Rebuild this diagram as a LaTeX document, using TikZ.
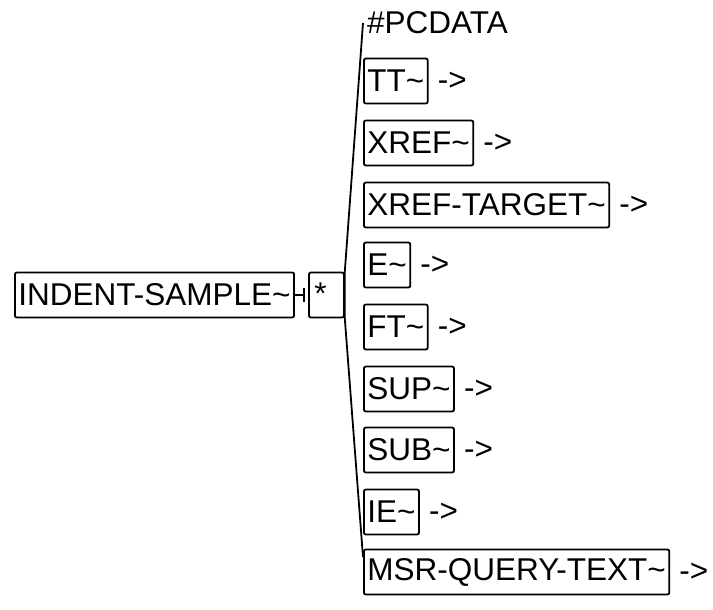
\documentclass[tikz,border=0pt]{standalone}
\usepackage{fontspec}
\setmainfont{Liberation Sans}
\usetikzlibrary{arrows.meta,positioning}

\begin{document}
\begin{tikzpicture}[
  x=1pt, y=-1pt,
  font=\fontsize{31.5}{32}\selectfont,
  elem/.style={
    draw,
    line width=1.8pt,
    rounded corners=2pt,
    minimum height=45pt,
    inner xsep=3.5pt,
    inner ysep=0pt,
    anchor=west
  },
  next/.style={inner sep=0pt},
  hook/.style={line width=1.8pt},
  link/.style={line width=1.8pt, -{Bar[width=14pt,line width=1.8pt,sep=3pt]}}
]
\useasboundingbox (0,0) rectangle (713,610);

\node[elem] (indent) at (14,295) {INDENT-SAMPLE\textasciitilde};
\node[elem, minimum width=35pt] (star) at (308,295) {\makebox[24pt][l]{\raisebox{3pt}{*}}};
\draw[link] (indent) -- (star);

\node[anchor=west, inner xsep=4pt, inner ysep=0pt] (pcdata) at (363,23) {\#PCDATA};

\node[elem] (tt) at (363,81) {TT\textasciitilde};
\node[next, right=9pt of tt] (ttnext) {->};

\node[elem] (xref) at (363,143) {XREF\textasciitilde};
\node[next, right=9pt of xref] (xrefnext) {->};

\node[elem] (xreftarget) at (363,205) {XREF-TARGET\textasciitilde};
\node[next, right=9pt of xreftarget] (xreftargetnext) {->};

\node[elem] (e) at (363,265) {E\textasciitilde};
\node[next, right=9pt of e] (enext) {->};

\node[elem] (ft) at (363,327) {FT\textasciitilde};
\node[next, right=9pt of ft] (ftnext) {->};

\node[elem] (sup) at (363,389) {SUP\textasciitilde};
\node[next, right=9pt of sup] (supnext) {->};

\node[elem] (sub) at (363,450) {SUB\textasciitilde};
\node[next, right=9pt of sub] (subnext) {->};

\node[elem] (ie) at (363,512) {IE\textasciitilde};
\node[next, right=9pt of ie] (ienext) {->};

\node[elem] (msr) at (363,572) {MSR-QUERY-TEXT\textasciitilde};
\node[next, right=9pt of msr] (msrnext) {->};

% bracket of the choice group
\coordinate (btmend) at (363,557);
\draw[hook] (pcdata.west) -- (star.north east) -- (star.south east) -- (btmend);

\end{tikzpicture}
\end{document}
